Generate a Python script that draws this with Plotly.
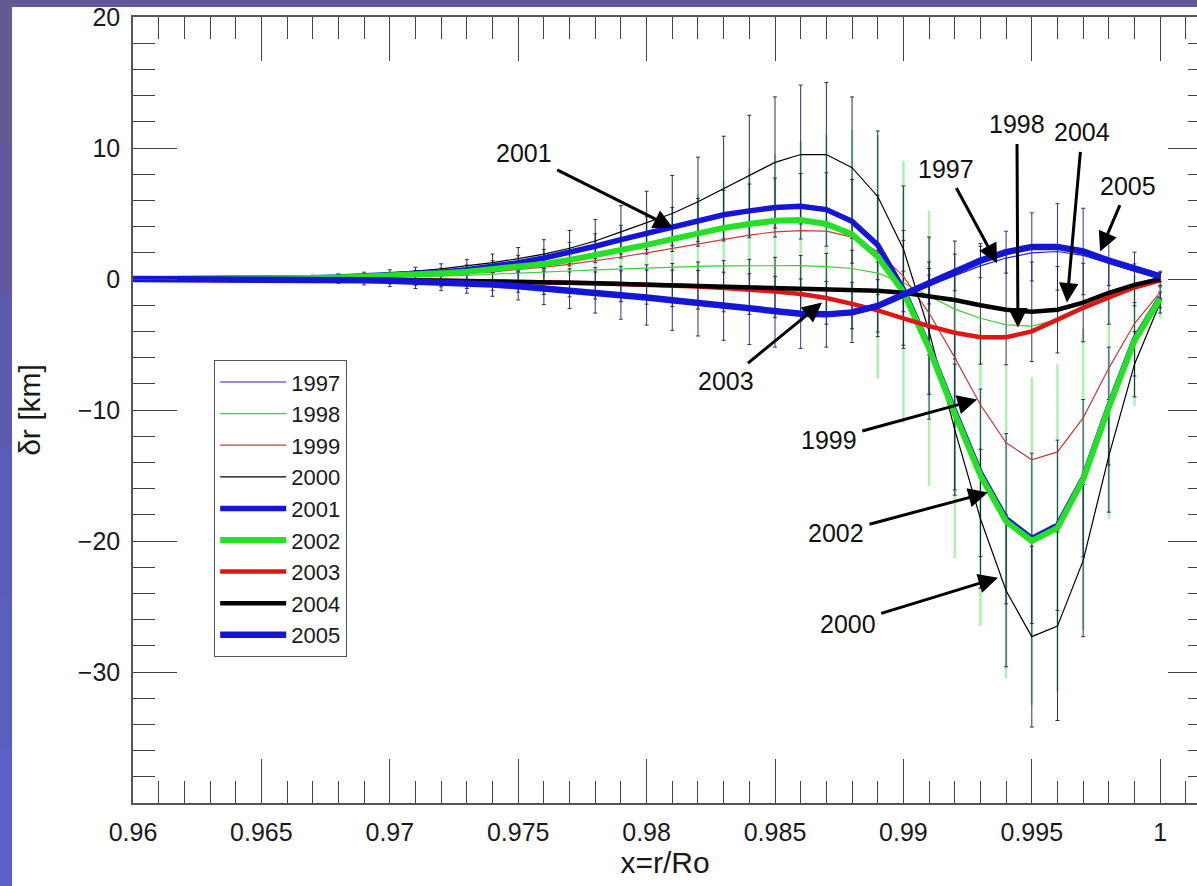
import plotly.graph_objects as go

# ---------------- data ----------------
x_vals = [0.960, 0.961, 0.962, 0.963, 0.964, 0.965, 0.966, 0.967, 0.968, 0.969,
          0.970, 0.971, 0.972, 0.973, 0.974, 0.975, 0.976, 0.977, 0.978, 0.979,
          0.980, 0.981, 0.982, 0.983, 0.984, 0.985, 0.986, 0.987, 0.988, 0.989,
          0.990, 0.991, 0.992, 0.993, 0.994, 0.995, 0.996, 0.997, 0.998, 0.999,
          1.000]

y1997 = [0, 0, 0, 0, -0.01, -0.02, -0.03, -0.05, -0.07, -0.09,
         -0.12, -0.17, -0.23, -0.3, -0.4, -0.52, -0.66, -0.82, -0.98, -1.16,
         -1.35, -1.54, -1.76, -1.98, -2.18, -2.38, -2.52, -2.57, -2.45, -2.0,
         -1.25, -0.5, 0.2, 1.0, 1.6, 2.0, 2.1, 1.8, 1.2, 0.6,
         0.1]
y1998 = [0, 0, 0, 0, 0.01, 0.02, 0.03, 0.05, 0.07, 0.1,
         0.13, 0.17, 0.22, 0.28, 0.35, 0.43, 0.52, 0.61, 0.7, 0.78,
         0.85, 0.92, 0.97, 1.0, 1.02, 1.03, 1.02, 0.95, 0.8, 0.45,
         -0.3, -1.3, -2.3, -3.0, -3.5, -3.6, -3.1, -2.3, -1.5, -0.7,
         -0.1]
y1999 = [0, 0, 0, 0.01, 0.02, 0.03, 0.04, 0.06, 0.09, 0.13,
         0.18, 0.24, 0.32, 0.42, 0.55, 0.7, 0.9, 1.12, 1.38, 1.68,
         2.0, 2.35, 2.7, 3.05, 3.35, 3.6, 3.7, 3.65, 3.2, 2.1,
         0.2, -2.6, -6.0, -9.6, -12.5, -13.8, -13.2, -10.6, -6.8, -3.4,
         -1.0]
y2000 = [0, 0, 0, 0.02, 0.04, 0.06, 0.1, 0.15, 0.22, 0.32,
         0.45, 0.6, 0.78, 1.0, 1.25, 1.55, 1.9, 2.35, 2.9, 3.6,
         4.3, 5.0, 5.9, 6.9, 7.9, 8.9, 9.5, 9.5, 8.5, 6.3,
         2.3, -4.0, -11.5, -18.3, -23.8, -27.3, -26.5, -21.5, -13.5, -6.5,
         -1.8]
y2001 = [0, 0, 0, 0.01, 0.02, 0.04, 0.06, 0.1, 0.15, 0.22,
         0.3, 0.4, 0.52, 0.7, 0.95, 1.25, 1.6, 2.0, 2.5, 3.0,
         3.5, 4.0, 4.5, 4.9, 5.2, 5.45, 5.55, 5.3, 4.4, 2.6,
         -0.8, -5.2, -10.1, -14.8, -18.3, -19.8, -18.8, -15.2, -9.7, -4.6,
         -1.4]
y2002 = [0, 0, 0, 0.01, 0.02, 0.03, 0.05, 0.08, 0.12, 0.18,
         0.25, 0.33, 0.43, 0.56, 0.72, 0.92, 1.15, 1.45, 1.8, 2.2,
         2.6, 3.05, 3.5, 3.9, 4.2, 4.45, 4.5, 4.2, 3.4, 1.7,
         -1.0, -5.3, -10.3, -15.0, -18.5, -20.0, -19.0, -15.3, -9.8, -4.7,
         -1.5]
y2003 = [0, 0, 0, 0, 0, -0.01, -0.02, -0.03, -0.04, -0.06,
         -0.08, -0.1, -0.12, -0.15, -0.18, -0.21, -0.25, -0.29, -0.33, -0.38,
         -0.43, -0.5, -0.58, -0.68, -0.8, -0.95, -1.15, -1.45, -1.9, -2.4,
         -3.0, -3.6, -4.1, -4.45, -4.45, -4.0, -3.1, -2.2, -1.4, -0.65,
         -0.1]
y2004 = [0, 0, 0, 0, 0, -0.01, -0.02, -0.03, -0.04, -0.06,
         -0.08, -0.1, -0.12, -0.15, -0.18, -0.21, -0.25, -0.29, -0.33, -0.38,
         -0.42, -0.46, -0.5, -0.55, -0.6, -0.65, -0.7, -0.75, -0.8, -0.9,
         -1.05, -1.3, -1.6, -2.0, -2.35, -2.5, -2.35, -1.8, -1.05, -0.45,
         0.0]
y2005 = [0, 0, 0, 0, -0.01, -0.02, -0.03, -0.05, -0.07, -0.1,
         -0.13, -0.18, -0.24, -0.32, -0.42, -0.55, -0.7, -0.86, -1.03, -1.22,
         -1.42, -1.62, -1.85, -2.08, -2.3, -2.5, -2.65, -2.7, -2.55, -2.05,
         -1.2, -0.3, 0.5, 1.4, 2.05, 2.45, 2.45, 2.1, 1.4, 0.75,
         0.2]

# error bar half-lengths
err2000 = [0.05, 0.05, 0.06, 0.07, 0.08, 0.1, 0.12, 0.14, 0.17, 0.2,
           0.25, 0.3, 0.38, 0.48, 0.65, 0.85, 1.1, 1.35, 1.65, 2.0,
           2.4, 2.9, 3.4, 4.0, 4.6, 5.0, 5.3, 5.5, 5.4, 5.0,
           4.8, 4.8, 5.0, 5.3, 5.8, 6.9, 7.2, 5.8, 4.3, 2.5,
           0.8]
err2001 = [0.03, 0.03, 0.04, 0.05, 0.06, 0.07, 0.09, 0.11, 0.14, 0.17,
           0.2, 0.25, 0.3, 0.37, 0.45, 0.55, 0.66, 0.8, 0.95, 1.1,
           1.25, 1.45, 1.65, 1.85, 2.05, 2.25, 2.5, 2.8, 3.2, 3.8,
           4.5, 5.5, 6.0, 6.4, 6.5, 6.5, 6.5, 6.0, 4.5, 2.8,
           0.8]
err2002 = [0.03, 0.03, 0.04, 0.05, 0.06, 0.08, 0.1, 0.13, 0.17, 0.22,
           0.28, 0.35, 0.45, 0.55, 0.7, 0.85, 1.0, 1.2, 1.45, 1.75,
           2.1, 2.5, 3.0, 3.6, 4.3, 5.1, 6.0, 6.8, 8.0, 9.3,
           10.0, 10.5, 11.0, 11.5, 12.0, 12.5, 12.5, 11.5, 8.5, 5.0,
           1.5]
err2004 = [0.03, 0.03, 0.04, 0.05, 0.06, 0.07, 0.09, 0.12, 0.16, 0.22,
           0.3, 0.38, 0.47, 0.57, 0.68, 0.8, 0.93, 1.07, 1.2, 1.35,
           1.5, 1.65, 1.8, 1.95, 2.1, 2.3, 2.5, 2.7, 3.0, 3.5,
           4.0, 4.5, 4.5, 4.5, 4.2, 3.8, 3.3, 3.0, 2.4, 1.6,
           0.5]
err2005 = [0.05, 0.06, 0.07, 0.08, 0.1, 0.12, 0.15, 0.2, 0.26, 0.35,
           0.45, 0.55, 0.65, 0.77, 0.9, 1.05, 1.25, 1.4, 1.57, 1.85,
           2.1, 2.3, 2.5, 2.6, 2.7, 2.7, 2.65, 2.5, 2.3, 2.0,
           1.8, 1.6, 1.4, 1.3, 1.6, 2.6, 3.3, 3.3, 1.9, 1.3,
           0.4]

years = ["1997", "1998", "1999", "2000", "2001", "2002", "2003", "2004", "2005"]
series = [y1997, y1998, y1999, y2000, y2001, y2002, y2003, y2004, y2005]
colors = ["#2323c0", "#3ccc3c", "#c83a3a", "#000000",
          "#1515d6", "#25e025", "#e01515", "#000000", "#1515d6"]
widths = [1.2, 1.2, 1.2, 1.2, 5.5, 6.0, 4.5, 4.5, 6.5]

x_tickvals = [0.96, 0.965, 0.97, 0.975, 0.98, 0.985, 0.99, 0.995, 1.0]
x_ticktext = ["0.96", "0.965", "0.97", "0.975", "0.98", "0.985", "0.99", "0.995", "1"]
y_tickvals = [-30, -20, -10, 0, 10, 20]
y_ticktext = ["\u221230", "\u221220", "\u221210", "0", "10", "20"]

# annotation: label, tip x, tip y, text x, text y
ann_labels = ["2001", "2003", "1999", "2002", "2000", "1997", "1998", "2004", "2005"]
ann_tip_x = [0.98103, 0.98683, 0.99287, 0.99329, 0.99368, 0.99365, 0.99446, 0.99637, 0.99766]
ann_tip_y = [3.9, -1.8, -9.2, -16.3, -22.8, 1.2, -3.7, -1.8, 2.1]
ann_txt_x = [0.97523, 0.98309, 0.98710, 0.98738, 0.98784, 0.99166, 0.99442, 0.99696, 0.99875]
ann_txt_y = [9.6, -7.8, -12.3, -19.4, -26.3, 8.4, 11.8, 11.2, 7.1]

# ---------------- figure ----------------
FONT = "Liberation Sans, Arial, Helvetica, sans-serif"
fig = go.Figure()

# error bars (drawn first, underneath all curves)
err_specs = [
    (y2002, err2002, "rgba(110,225,110,0.55)", 2.5, 0),
    (y2004, err2004, "rgba(20,20,40,0.85)", 1.0, 2),
    (y2005, err2005, "rgba(30,30,120,0.9)", 1.0, 2),
    (y2001, err2001, "rgba(30,30,110,0.85)", 1.0, 2),
    (y2000, err2000, "rgba(25,25,70,0.9)", 1.0, 2),
]
for yv, ev, col, th, cw in err_specs:
    fig.add_trace(go.Scatter(
        x=x_vals, y=yv, mode="markers",
        marker=dict(size=1, opacity=0),
        error_y=dict(type="data", array=ev, visible=True, color=col,
                     thickness=th, width=cw),
        showlegend=False, hoverinfo="skip"))

for name, yv, col, w in zip(years, series, colors, widths):
    fig.add_trace(go.Scatter(
        x=x_vals, y=yv, mode="lines", name=name,
        line=dict(color=col, width=w)))

# dummy axis carrier for the right-hand (partially clipped) axis
fig.add_trace(go.Scatter(x=[None], y=[None], yaxis="y2", showlegend=False,
                         hoverinfo="skip"))

for lab, tx, ty, ax, ay in zip(ann_labels, ann_tip_x, ann_tip_y, ann_txt_x, ann_txt_y):
    fig.add_annotation(
        x=tx, y=ty, ax=ax, ay=ay, xref="x", yref="y", axref="x", ayref="y",
        text=lab, showarrow=True, arrowhead=2, arrowsize=1.3, arrowwidth=3,
        arrowcolor="#000000", startstandoff=4,
        font=dict(family=FONT, size=25, color="#111111"))

# slide background: white panel on a purple frame
left_cols = ["#635a94", "#6059a0", "#5d5aac", "#5b5cb6", "#5a5ebf", "#5960c6"]
for i, c in enumerate(left_cols):
    fig.add_shape(type="rect", xref="paper", yref="paper",
                  x0=-0.126, x1=-0.1137,
                  y0=1.03 - (i + 1) * 1.15 / len(left_cols), y1=1.03 - i * 1.15 / len(left_cols),
                  fillcolor=c, line_width=0, layer="below")
fig.add_shape(type="rect", xref="paper", yref="paper",
              x0=-0.1137, x1=1.0, y0=-0.1056, y1=1.0127,
              fillcolor="white", line_width=0, layer="below")

axis_common = dict(
    showline=True, linecolor="#555555", linewidth=1.5,
    ticks="inside", tickcolor="#444444", tickwidth=1.2,
    showgrid=False, zeroline=False, automargin=False,
    tickfont=dict(family=FONT, size=25, color="#1a1a1a"),
)

fig.update_layout(
    width=1197, height=886,
    margin=dict(l=133, r=0, t=17, b=83),
    paper_bgcolor="#615a96",
    plot_bgcolor="white",
    showlegend=True,
    legend=dict(
        x=0.0761, y=0.5636, xanchor="left", yanchor="top",
        bgcolor="white", bordercolor="#555555", borderwidth=1.2,
        font=dict(family=FONT, size=22, color="#1a1a1a"),
        itemwidth=66, tracegroupgap=0,
    ),
    xaxis=dict(
        **axis_common,
        range=[0.96, 1.001433],
        tickvals=x_tickvals, ticktext=x_ticktext,
        ticklen=44, mirror="ticks",
        minor=dict(dtick=0.001, tick0=0.96, ticklen=22, ticks="inside",
                   tickcolor="#444444", tickwidth=1.2),
        ticklabelstandoff=6,
        title=dict(text="x=r/Ro", font=dict(family=FONT, size=30, color="#1a1a1a"),
                   standoff=4),
    ),
    yaxis=dict(
        **axis_common,
        range=[-40, 20],
        tickvals=y_tickvals, ticktext=y_ticktext,
        ticklen=44, mirror=False,
        minor=dict(dtick=2, tick0=0, ticklen=22, ticks="inside",
                   tickcolor="#444444", tickwidth=1.2),
        ticklabelstandoff=6,
        title=dict(text="\u03b4r [km]", font=dict(family=FONT, size=30, color="#1a1a1a"),
                   standoff=28),
    ),
    yaxis2=dict(
        overlaying="y", side="right", range=[-40, 20], automargin=False,
        showline=False,
        ticks="inside", tickcolor="#444444", tickwidth=1.2, ticklen=29,
        tickvals=y_tickvals, showticklabels=False, showgrid=False, zeroline=False,
        minor=dict(dtick=2, tick0=0, ticklen=9, ticks="inside",
                   tickcolor="#444444", tickwidth=1.2),
    ),
)

fig.write_html("out.html",
               config={"displayModeBar": False},
               post_script="document.body.style.margin='0px';"
                           "document.body.style.background='#615a96';")
